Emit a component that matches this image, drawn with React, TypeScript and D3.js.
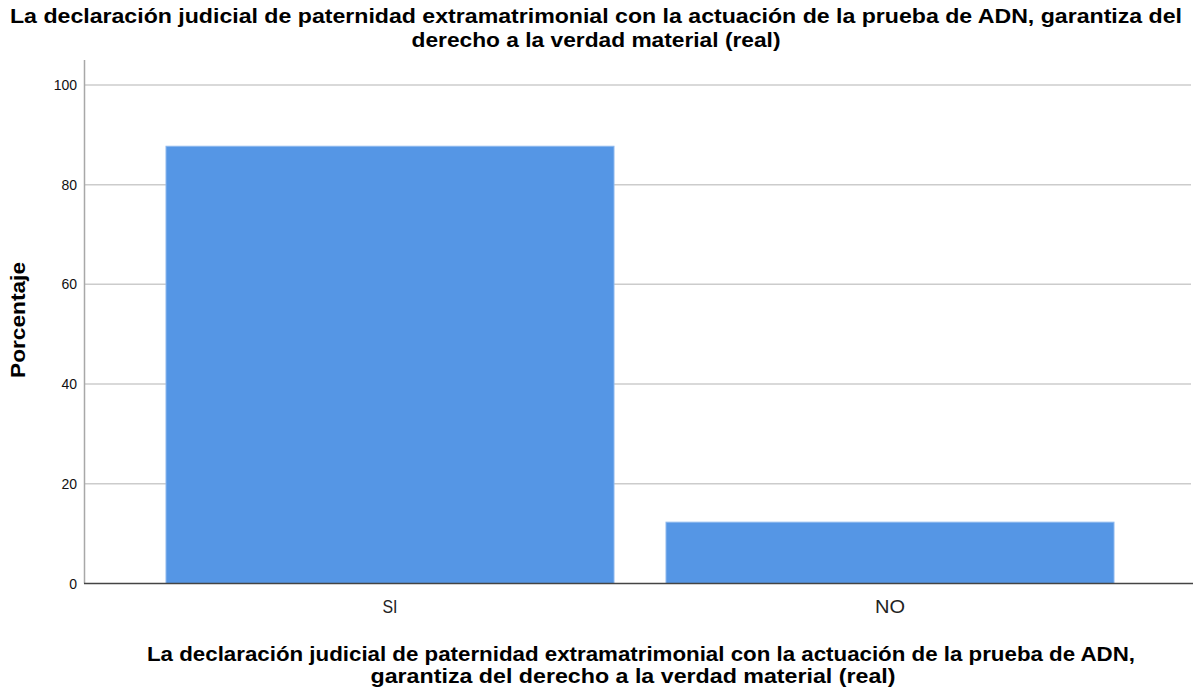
import React from "react";
import * as d3 from "d3";

const categories = ["SI", "NO"];
const values = [87.7, 12.3];
const yTicks = [0, 20, 40, 60, 80, 100];
const titleLines = [
  "La declaración judicial de paternidad extramatrimonial con la actuación de la prueba de ADN, garantiza del",
  "derecho a la verdad material (real)",
];
const xTitleLines = [
  "La declaración judicial de paternidad extramatrimonial con la actuación de la prueba de ADN,",
  "garantiza del derecho a la verdad material (real)",
];
const yTitle = "Porcentaje";

export default function App() {
  const W = 1193, H = 689;
  const left = 85, right = 1195, top = 60, bottom = 583.5;
  const x = d3.scaleBand<string>().domain(categories).range([left, right]).paddingInner(0.104).paddingOuter(0.162);
  const y = d3.scaleLinear().domain([0, 105]).range([bottom, top]);
  const font = "'Liberation Sans', Arial, sans-serif";
  const T = (props: any) => <text lengthAdjust="spacingAndGlyphs" fontWeight="bold" fontSize={20} textAnchor="middle" {...props} />;
  return (
    <svg width={W} height={H} style={{ position: "absolute", left: 0, top: 0, background: "#fff" }} fontFamily={font}>
      <rect x={0} y={0} width={W} height={H} fill="#fff" />
      {yTicks.filter(t => t > 0).map(t => (
        <line key={t} x1={left} x2={1191} y1={y(t)} y2={y(t)} stroke="#cccccc" strokeWidth={1.5} />
      ))}
      {categories.map((c, i) => (
        <rect key={c} x={x(c)} width={x.bandwidth()} y={y(values[i])} height={y(0) - y(values[i])} fill="#5596e5" stroke="#8db8ee" strokeWidth={1} />
      ))}
      <line x1={left - 0.5} x2={left - 0.5} y1={top} y2={bottom} stroke="#a8a8a8" strokeWidth={1.5} />
      <line x1={left - 1} x2={1193} y1={bottom} y2={bottom} stroke="#444" strokeWidth={1.5} />
      {yTicks.map(t => (
        <text key={t} x={77} y={y(t) + 5} textAnchor="end" fontSize={14} fill="#111">{t}</text>
      ))}
      {categories.map(c => (
        <text key={c} x={(x(c) as number) + x.bandwidth() / 2} y={613} textAnchor="middle" fontSize={18} fill="#222" lengthAdjust="spacingAndGlyphs" textLength={c === "SI" ? 15 : 30}>{c}</text>
      ))}
      <T x={596} y={23} textLength={1172}>{titleLines[0]}</T>
      <T x={596} y={47} textLength={369}>{titleLines[1]}</T>
      <T x={641} y={661} textLength={988}>{xTitleLines[0]}</T>
      <T x={633} y={683} textLength={525}>{xTitleLines[1]}</T>
      <T transform={`translate(25,320) rotate(-90)`} textLength={116}>{yTitle}</T>
    </svg>
  );
}
